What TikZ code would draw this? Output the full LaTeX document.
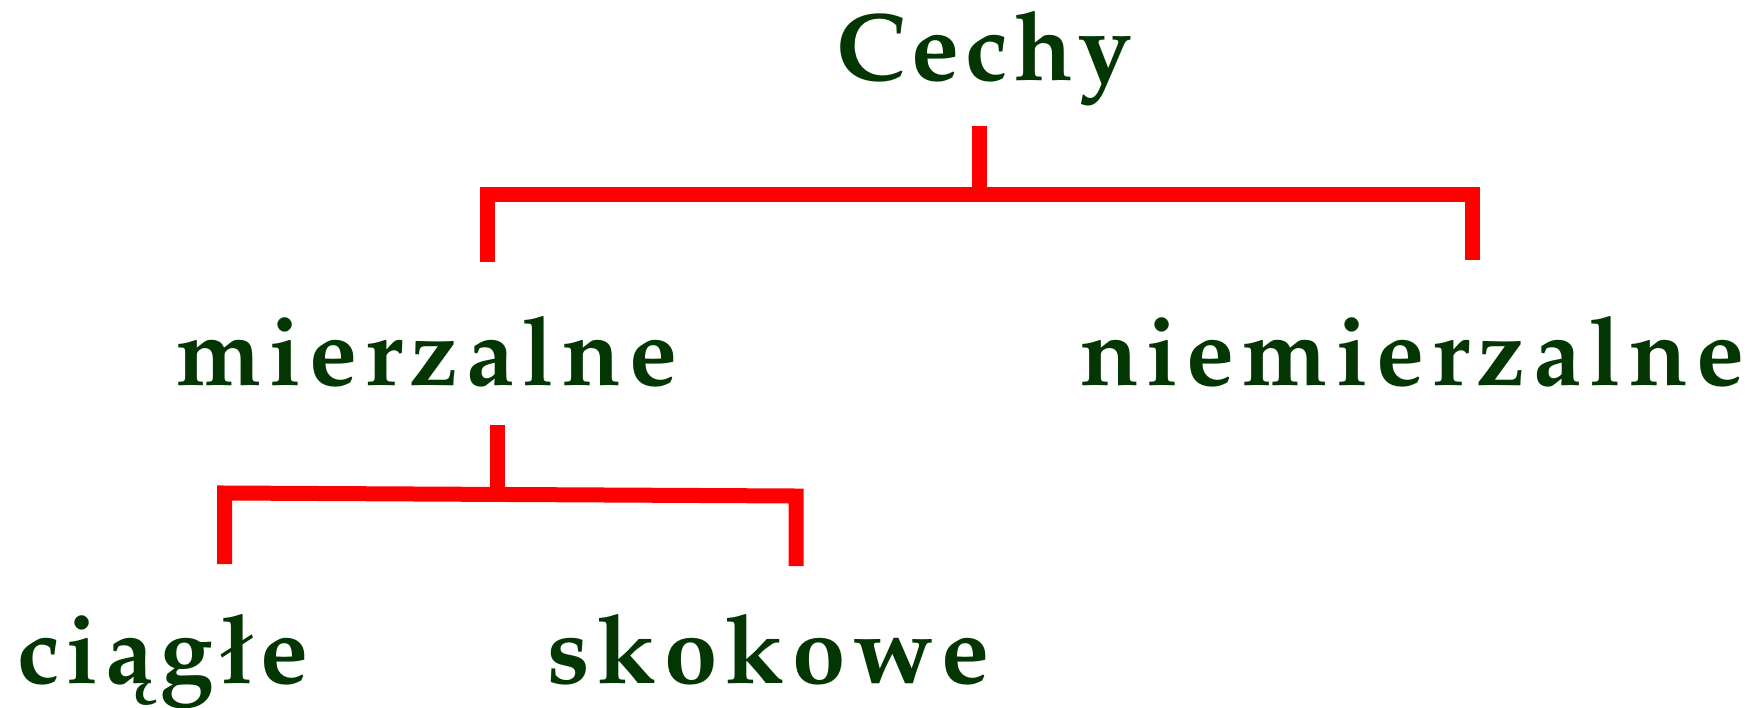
\documentclass[tikz,border=0pt]{standalone}
\usepackage[T1]{fontenc}
\definecolor{txtgreen}{RGB}{3,54,3}
\definecolor{barred}{RGB}{255,0,0}
\makeatletter
\def\lsp#1#2{\lsp@loop{#1}#2\@nil}
\def\lsp@loop#1#2#3\@nil{#2\ifx\relax#3\relax\else\hskip#1\relax\lsp@loop{#1}#3\@nil\fi}
\makeatother
\tikzset{
  lbl/.style={inner sep=0pt, anchor=base west, text=txtgreen,
    font=\fontfamily{ppl}\fontseries{b}\fontsize{96}{110}\selectfont},
  redline/.style={draw=barred, line width=15pt, line join=miter, line cap=butt},
}
\begin{document}
\begin{tikzpicture}[x=1pt,y=-1pt]
\useasboundingbox (0,0) rectangle (1751,707);
% labels
\node[lbl] (cechy) at (836,80) {\lsp{6pt}{Cechy}};
\node[lbl] (mierz) at (176,385) {\lsp{8pt}{mierzalne}};
\node[lbl] (niemierz) at (1080,385) {\lsp{8pt}{niemierzalne}};
\node[lbl] (ciagle) at (17,683) {\lsp{7pt}{ci{\k a}g{\l}e}};
\node[lbl] (skokowe) at (547,683) {\lsp{8pt}{skokowe}};
% coordinates for connector ends
\coordinate (s1top) at (979,126);
\coordinate (s1bot) at (979,201);
\coordinate (b1L) at (487.5,194);
\coordinate (b1R) at (1472,194);
\coordinate (l1L) at (487.5,262);
\coordinate (l1R) at (1472,260);
\coordinate (s2top) at (497,425);
\coordinate (s2bot) at (497,500);
\coordinate (b2L) at (224.5,493);
\coordinate (b2R) at (796,496);
\coordinate (l2L) at (224.5,564);
\coordinate (l2R) at (796,566);
% connectors
\draw[redline] (s1top) -- (s1bot);
\draw[redline] (l1L) -- (b1L) -- (b1R) -- (l1R);
\draw[redline] (s2top) -- (s2bot);
\draw[redline] (l2L) -- (b2L) -- (b2R) -- (l2R);
\end{tikzpicture}
\end{document}
